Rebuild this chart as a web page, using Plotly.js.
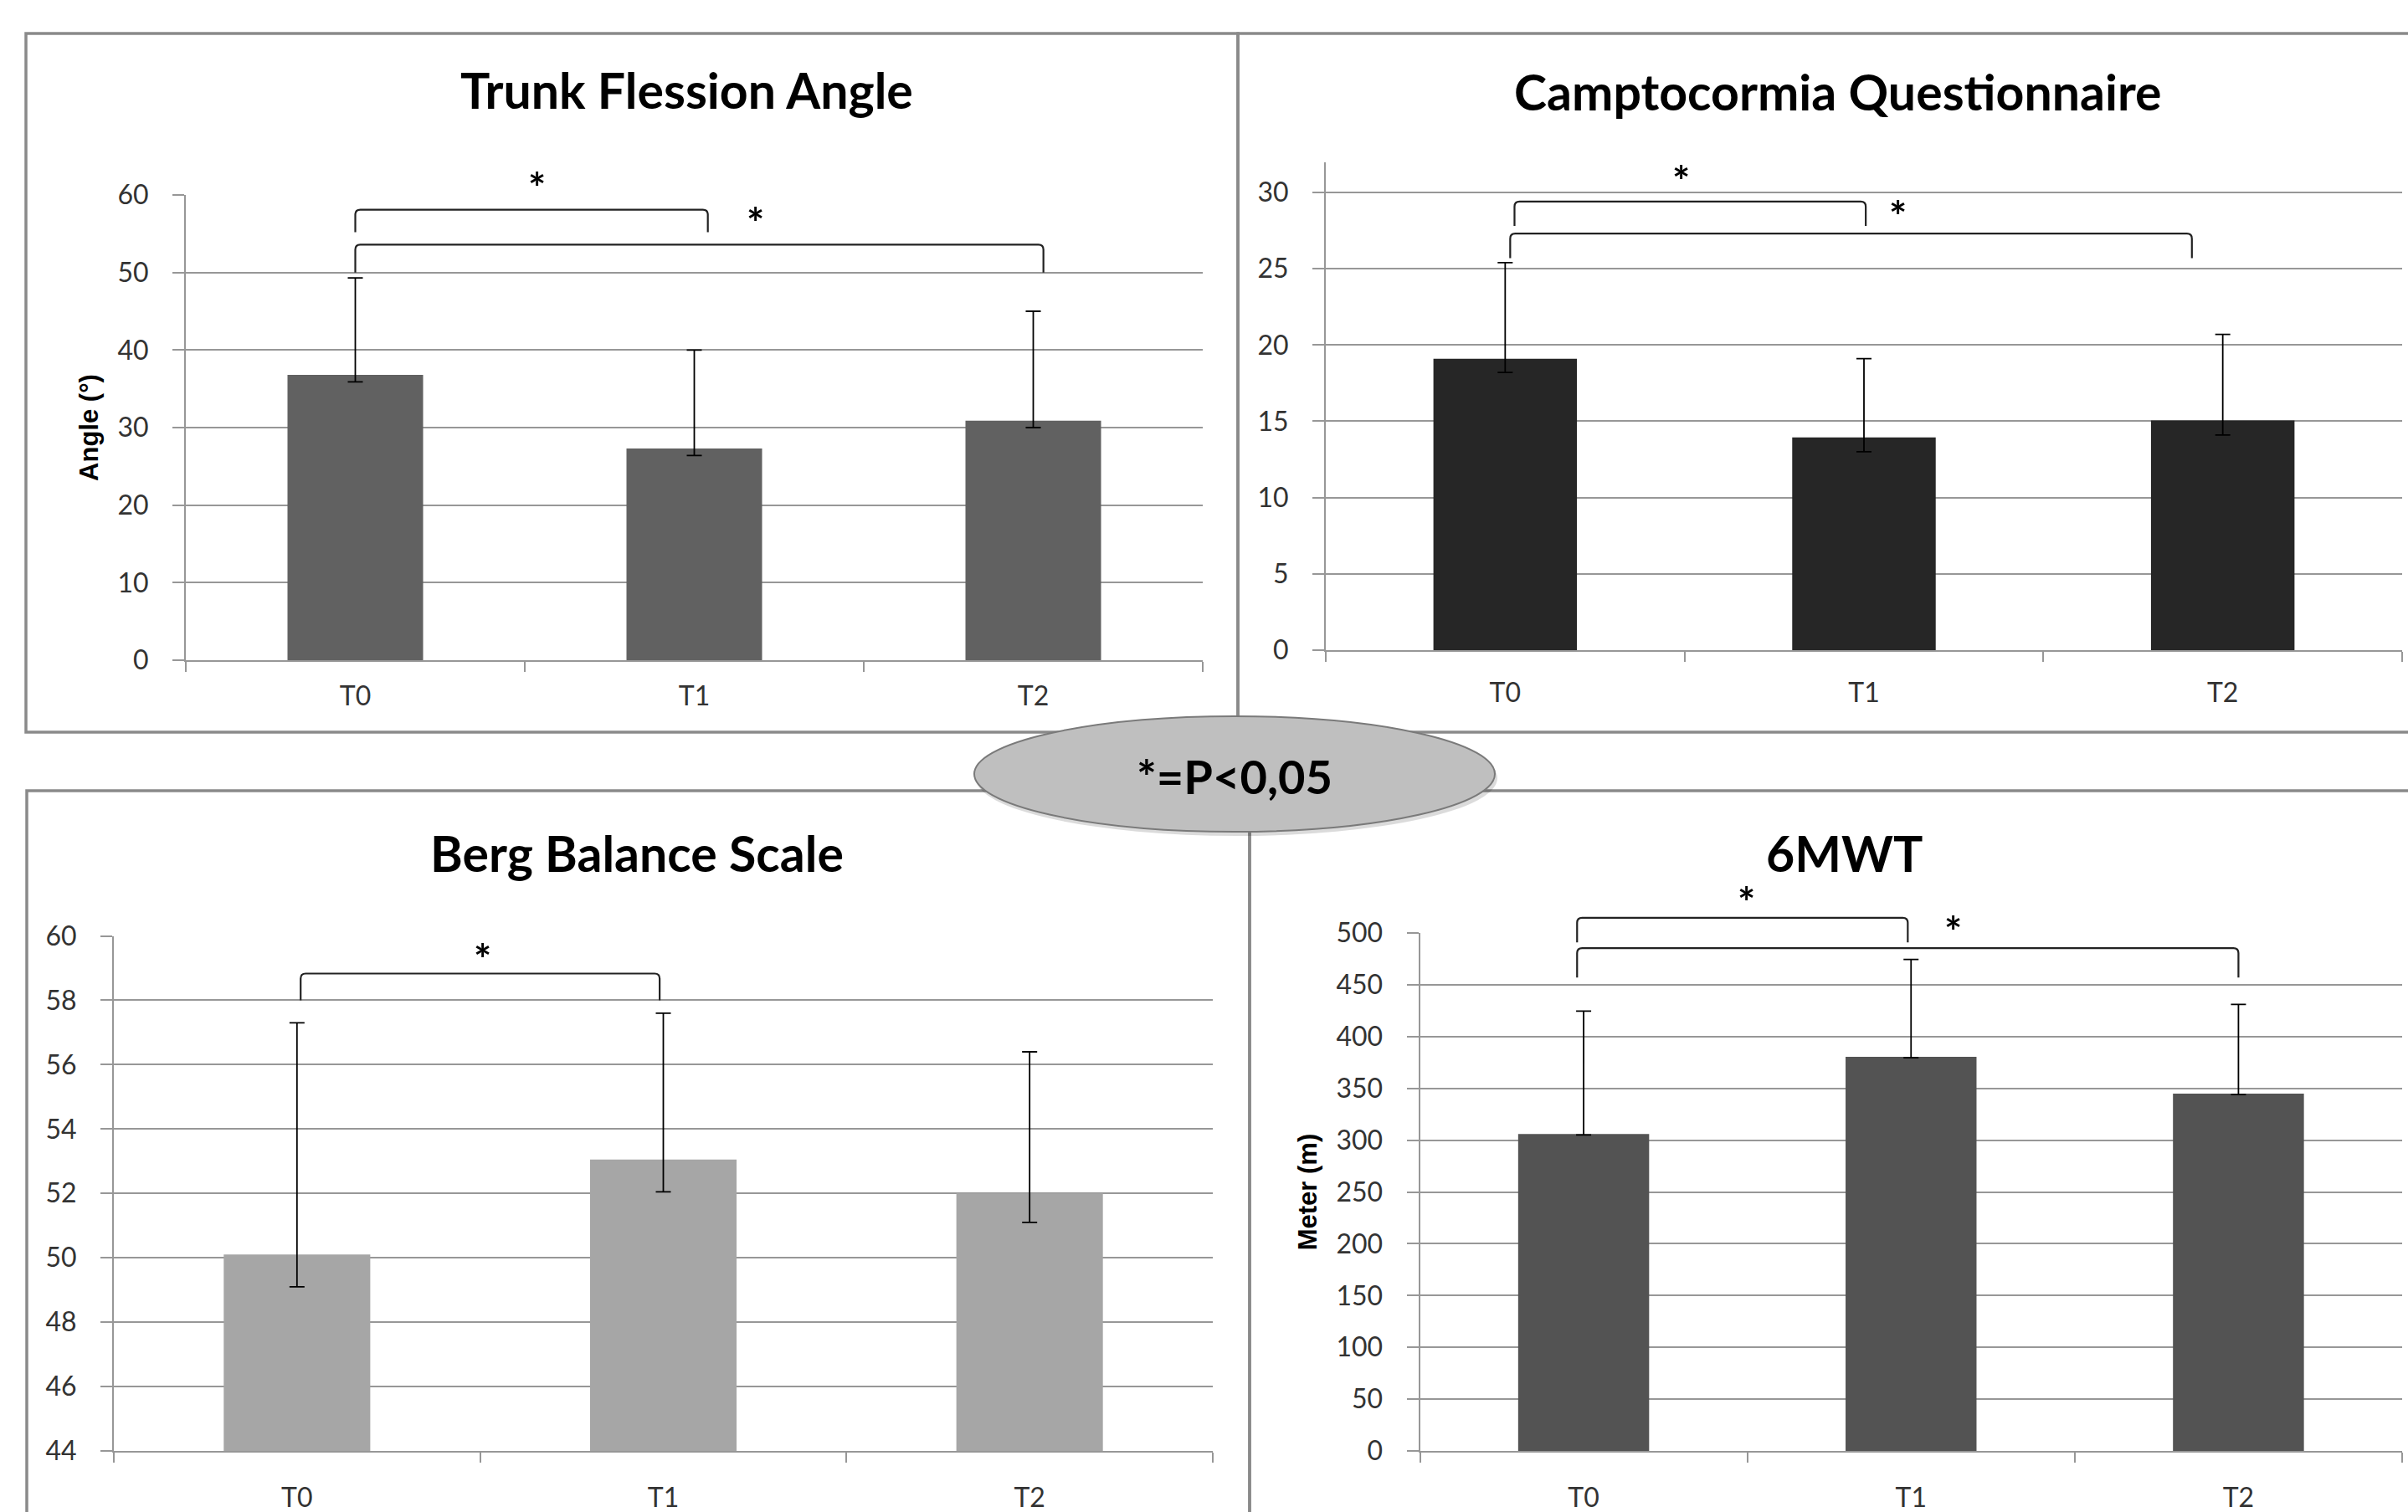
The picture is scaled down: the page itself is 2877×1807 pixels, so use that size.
<!DOCTYPE html>
<html>
<head>
<meta charset="utf-8">
<script src="https://cdn.plot.ly/plotly-3.0.1.min.js"></script>
<style>
html,body{margin:0;padding:0;background:#fff;}
#chart{width:2877px;height:1807px;}
</style>
</head>
<body>
<div id="chart"></div>
<script>
// ---------------- data ----------------
const categories = ['T0', 'T1', 'T2'];

const trunkMean  = [36.8, 27.3, 30.9];
const trunkUpper = [49.3, 40.0, 45.0];
const trunkLower = [35.9, 26.4, 30.0];

const camptoMean  = [19.1, 13.95, 15.05];
const camptoUpper = [25.4, 19.1, 20.7];
const camptoLower = [18.2, 13.0, 14.1];

const bergMean  = [50.1, 53.05, 52.0];
const bergUpper = [57.3, 57.6, 56.4];
const bergLower = [49.1, 52.05, 51.1];

const mwtMean  = [306, 380.5, 345];
const mwtUpper = [424.5, 474.5, 431];
const mwtLower = [305, 379.5, 344];

// significance brackets: from / to (category index), top value, leg end value
const trunkBrFrom = [0, 0],          trunkBrTo = [1.04, 2.03],    trunkBrTop = [58.1, 53.6],  trunkBrLeg = [55.2, 50.0];
const camptoBrFrom = [0.026, 0.014], camptoBrTo = [1.005, 1.914], camptoBrTop = [29.4, 27.3], camptoBrLeg = [27.8, 25.7];
const bergBrFrom = [0.01],           bergBrTo = [0.99],           bergBrTop = [58.83],        bergBrLeg = [58.0];
const mwtBrFrom = [-0.02, -0.02],    mwtBrTo = [0.99, 2.0],       mwtBrTop = [514.7, 485.4],  mwtBrLeg = [491, 457];

// star markers (category index, value)
const trunkStarX = [0.537, 1.18],  trunkStarY = [61.8, 57.3];
const camptoStarX = [0.49, 1.094], camptoStarY = [31.2, 28.9];
const bergStarX = [0.507],         bergStarY = [59.5];
const mwtStarX = [0.498, 1.129],   mwtStarY = [536, 508];

const chartTitles = ['Trunk Flession Angle', 'Camptocormia Questionnaire', 'Berg Balance Scale', '6MWT'];
const yTitles = ['Angle (°)', '', '', 'Meter (m)'];
const legendNote = '*=P<0,05';

// ---------------- layout geometry (pixels) ----------------
const W = 2877, H = 1807;
const px = v => v / W;
const py = v => 1 - v / H;

const panels = [
  {xa: 'x',  ya: 'y',  xd: [222, 1437],    yd: [233, 789],     range: [0, 60],  dtick: 10,  color: '#616161',
   mean: trunkMean, up: trunkUpper, lo: trunkLower, xstand: 14,
   brF: trunkBrFrom, brT: trunkBrTo, brTop: trunkBrTop, brLeg: trunkBrLeg, sx: trunkStarX, sy: trunkStarY,
   title: [820, 107]},
  {xa: 'x2', ya: 'y2', xd: [1584, 2870],   yd: [193.5, 777],   range: [0, 32],  dtick: 5,   color: '#262626',
   mean: camptoMean, up: camptoUpper, lo: camptoLower, xstand: 22,
   brF: camptoBrFrom, brT: camptoBrTo, brTop: camptoBrTop, brLeg: camptoBrLeg, sx: camptoStarX, sy: camptoStarY,
   title: [2196, 110]},
  {xa: 'x3', ya: 'y3', xd: [136, 1449],    yd: [1118.5, 1734], range: [44, 60], dtick: 2,   color: '#a6a6a6',
   mean: bergMean, up: bergUpper, lo: bergLower, xstand: 27,
   brF: bergBrFrom, brT: bergBrTo, brTop: bergBrTop, brLeg: bergBrLeg, sx: bergStarX, sy: bergStarY,
   title: [761, 1020]},
  {xa: 'x4', ya: 'y4', xd: [1696.5, 2870], yd: [1115, 1734],   range: [0, 500], dtick: 50,  color: '#535353',
   mean: mwtMean, up: mwtUpper, lo: mwtLower, xstand: 27,
   brF: mwtBrFrom, brT: mwtBrTo, brTop: mwtBrTop, brLeg: mwtBrLeg, sx: mwtStarX, sy: mwtStarY,
   title: [2203, 1020]}
];

const tickFont = {family: 'Lato, "Open Sans", sans-serif', size: 32, color: '#333333'};
const gridCol = '#979797';

const traces = [];
const layout = {
  width: W, height: H,
  margin: {l: 0, r: 0, t: 0, b: 0},
  paper_bgcolor: '#ffffff', plot_bgcolor: 'rgba(0,0,0,0)',
  showlegend: false,
  bargap: 0.6,
  shapes: [], annotations: []
};

// panel frames
const frames = [[31, 40, 1479, 875], [1479, 40, 2895, 875], [32, 945, 1493, 1830], [1493, 945, 2895, 1830]];
frames.forEach(f => layout.shapes.push({
  type: 'rect', xref: 'paper', yref: 'paper', x0: px(f[0]), x1: px(f[2]), y0: py(f[3]), y1: py(f[1]),
  line: {color: '#8a8a8a', width: 3.5}, fillcolor: 'rgba(0,0,0,0)', layer: 'above'
}));

panels.forEach((p, i) => {
  const n = i === 0 ? '' : String(i + 1);
  traces.push({
    type: 'bar', x: categories, y: p.mean, xaxis: p.xa, yaxis: p.ya,
    marker: {color: p.color, line: {width: 0}},
    error_y: {type: 'data', symmetric: false,
      array: p.up.map((u, k) => u - p.mean[k]),
      arrayminus: p.lo.map((l, k) => p.mean[k] - l),
      color: '#000000', thickness: 1.8, width: 9},
    hoverinfo: 'skip'
  });
  layout['xaxis' + n] = {
    domain: [px(p.xd[0]), px(p.xd[1])], anchor: p.ya,
    type: 'category', range: [-0.5, 2.5], tickson: 'boundaries',
    showline: true, linecolor: gridCol, linewidth: 2,
    ticks: 'outside', ticklen: 12, tickwidth: 2, tickcolor: gridCol,
    showgrid: false, zeroline: false, tickfont: tickFont, ticklabelstandoff: p.xstand,
    fixedrange: true
  };
  layout['yaxis' + n] = {
    domain: [py(p.yd[1]), py(p.yd[0])], anchor: p.xa,
    range: p.range, dtick: p.dtick, tick0: 0,
    showline: true, linecolor: gridCol, linewidth: 2,
    ticks: 'outside', ticklen: 14, tickwidth: 2, tickcolor: gridCol,
    showgrid: true, gridcolor: gridCol, gridwidth: 2, zeroline: false,
    tickfont: tickFont, ticklabelstandoff: 22, fixedrange: true,
    title: yTitles[i] ? {text: yTitles[i], standoff: 14,
      font: {family: '"Liberation Sans", Arial, sans-serif', size: 31, weight: 'bold', color: '#000'}} : {text: ''}
  };

  // brackets and stars (x in category index, y as fraction of the y-axis domain)
  const hPx = p.yd[1] - p.yd[0];
  const catPx = (p.xd[1] - p.xd[0]) / 3;
  const frac = v => (v - p.range[0]) / (p.range[1] - p.range[0]);
  const rX = 6 / catPx, rY = 6 / hPx;
  p.brF.forEach((x0, k) => {
    const x1 = p.brT[k];
    const yt = frac(p.brTop[k]), yl = frac(p.brLeg[k]);
    const path = `M${x0},${yl} L${x0},${yt - rY} Q${x0},${yt} ${x0 + rX},${yt} L${x1 - rX},${yt} Q${x1},${yt} ${x1},${yt - rY} L${x1},${yl}`;
    layout.shapes.push({type: 'path', xref: p.xa, yref: p.ya + ' domain', path: path,
      line: {color: '#222222', width: 2.2}, layer: 'above'});
  });
  p.sx.forEach((x, k) => layout.annotations.push({
    xref: p.xa, yref: p.ya + ' domain', x: x, y: frac(p.sy[k]), text: '*', showarrow: false,
    xanchor: 'center', yanchor: 'middle', yshift: -8,
    font: {family: 'Lato, sans-serif', size: 50, weight: 'bold', color: '#000'}
  }));
  // chart title
  layout.annotations.push({
    xref: 'paper', yref: 'paper', x: px(p.title[0]), y: py(p.title[1]), text: chartTitles[i],
    showarrow: false, xanchor: 'center', yanchor: 'middle',
    font: {family: 'Lato, sans-serif', size: 59, weight: 'bold', color: '#000'}
  });
});

// central ellipse note with shadow
layout.shapes.push({type: 'circle', xref: 'paper', yref: 'paper',
  x0: px(1166), x1: px(1789), y0: py(999), y1: py(861),
  fillcolor: 'rgba(0,0,0,0.14)', line: {width: 0}, layer: 'above'});
layout.shapes.push({type: 'circle', xref: 'paper', yref: 'paper',
  x0: px(1164), x1: px(1786), y0: py(994), y1: py(856),
  fillcolor: '#bfbfbf', line: {color: '#7a7a7a', width: 2}, layer: 'above'});
layout.annotations.push({xref: 'paper', yref: 'paper', x: px(1475), y: py(927), text: legendNote,
  showarrow: false, xanchor: 'center', yanchor: 'middle',
  font: {family: 'Lato, sans-serif', size: 56, weight: 'bold', color: '#000'}});

Plotly.newPlot('chart', traces, layout, {staticPlot: true, displayModeBar: false});
</script>
</body>
</html>
